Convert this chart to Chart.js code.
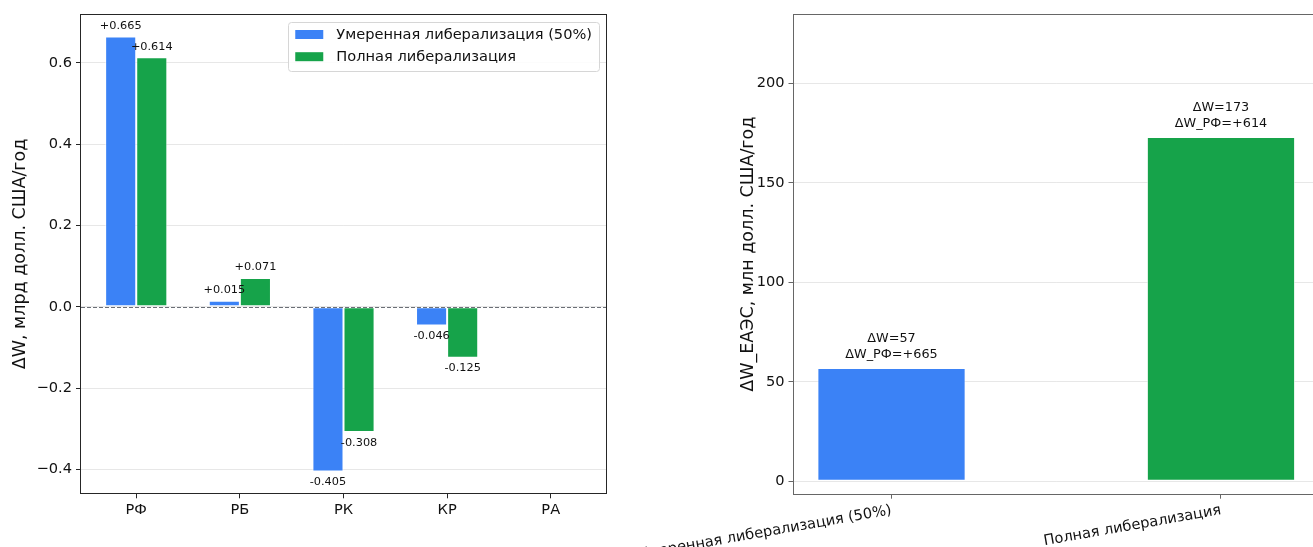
<!DOCTYPE html>
<html><head><meta charset="utf-8">
<script src="https://cdn.jsdelivr.net/npm/chart.js@4.4.1/dist/chart.umd.min.js"></script>
<style>
html,body{margin:0;padding:0;background:#fff;overflow:hidden;width:1313px;height:547px;position:relative;}
#w1{position:absolute;left:0;top:0;width:612px;height:547px;}
#w2{position:absolute;left:600px;top:0;width:725px;height:547px;}
</style></head><body>
<div id="w1"><canvas id="c1"></canvas></div>
<div id="w2"><canvas id="c2"></canvas></div>
<script>
// ---- data ----
const countries = ['РФ', 'РБ', 'РК', 'КР', 'РА'];
const moderate = [0.665, 0.015, -0.405, -0.046, 0];
const fullLib = [0.614, 0.071, -0.308, -0.125, 0];
const seriesNames = ['Умеренная либерализация (50%)', 'Полная либерализация'];
const leftYTicks = [-0.4, -0.2, 0, 0.2, 0.4, 0.6];
const scenarios = ['Умеренная либерализация (50%)', 'Полная либерализация'];
const eaeuTotal = [57, 173];
const rfGain = [665, 614];
const rightYTicks = [0, 50, 100, 150, 200];

const BLUE = '#3b82f6', GREEN = '#16a34a';
const TXT = '#111';
const GRID = 'rgba(176,176,176,0.3)';
const TICK_FS = 14.6, TITLE_FS = 17.5;
Chart.defaults.font.family = "'DejaVu Sans', sans-serif";
Chart.defaults.color = TXT;
Chart.defaults.animation = false;

function fmtTick(v, d) { const s = Math.abs(v).toFixed(d); return (v < -1e-9 ? '\u2212' : '') + s; }
function noPad(s) { s.paddingLeft = 0; s.paddingRight = 0; s.paddingTop = 0; s.paddingBottom = 0; }

const framePlugin = {
  id: 'frame',
  afterDraw(chart, args, opts) {
    const { left, top, right, bottom } = chart.chartArea;
    const ctx = chart.ctx; ctx.save();
    ctx.strokeStyle = opts.color || '#222'; ctx.lineWidth = 1;
    const l = Math.round(left) - 0.5, t = Math.round(top) - 0.5, r = Math.round(right) + 0.5, b = Math.round(bottom) + 0.5;
    ctx.strokeRect(l, t, r - l, b - t);
    ctx.restore();
  }
};

const zeroLinePlugin = {
  id: 'zeroLine',
  afterDatasetsDraw(chart) {
    const ctx = chart.ctx, y = Math.round(chart.scales.y.getPixelForValue(0)) + 0.5;
    const { left, right } = chart.chartArea;
    ctx.save(); ctx.strokeStyle = '#6b6f76'; ctx.lineWidth = 1; ctx.setLineDash([4, 2]);
    ctx.beginPath(); ctx.moveTo(left, y); ctx.lineTo(right, y); ctx.stroke(); ctx.restore();
  }
};

const leftLabelsPlugin = {
  id: 'leftLabels',
  afterDatasetsDraw(chart) {
    const ctx = chart.ctx; ctx.save();
    ctx.font = "11.3px 'DejaVu Sans'"; ctx.fillStyle = TXT; ctx.textAlign = 'center'; ctx.textBaseline = 'alphabetic';
    chart.data.datasets.forEach((ds, i) => {
      const meta = chart.getDatasetMeta(i);
      meta.data.forEach((el, j) => {
        const v = ds.data[j].y; if (!v) return;
        const txt = (v > 0 ? '+' : '') + v.toFixed(3);
        ctx.fillText(txt, el.x, v > 0 ? el.y - 7.5 : el.y + 13.8);
      });
    });
    ctx.restore();
  }
};

const legendPlugin = {
  id: 'boxLegend',
  afterDraw(chart) {
    const ctx = chart.ctx, ca = chart.chartArea; ctx.save();
    ctx.font = TICK_FS + "px 'DejaVu Sans'";
    const dsets = chart.data.datasets;
    const maxW = Math.max(...dsets.map(d => ctx.measureText(d.label).width));
    const w = 7 + 28 + 13 + maxW + 7, h = 48.7;
    const x0 = ca.right - 7 - w, y0 = ca.top + 7.3;
    ctx.fillStyle = 'rgba(255,255,255,0.85)'; ctx.strokeStyle = '#d6d6d6'; ctx.lineWidth = 1;
    ctx.beginPath(); ctx.roundRect(Math.round(x0) + 0.5, Math.round(y0) + 0.5, Math.round(w), Math.round(h), 3); ctx.fill(); ctx.stroke();
    dsets.forEach((d, i) => {
      const cy = y0 + 12.5 + i * 22.2;
      ctx.fillStyle = d.backgroundColor; ctx.fillRect(x0 + 7, cy - 4.5, 28, 9);
      ctx.fillStyle = TXT; ctx.textBaseline = 'middle'; ctx.textAlign = 'left';
      ctx.fillText(d.label, x0 + 7 + 28 + 13, cy + 0.5);
    });
    ctx.restore();
  }
};

const rightLabelsPlugin = {
  id: 'rightLabels',
  afterDatasetsDraw(chart) {
    const ctx = chart.ctx; ctx.save();
    ctx.font = "12.8px 'DejaVu Sans'"; ctx.fillStyle = TXT; ctx.textAlign = 'center'; ctx.textBaseline = 'alphabetic';
    const meta = chart.getDatasetMeta(0);
    meta.data.forEach((el, j) => {
      ctx.fillText('ΔW=' + eaeuTotal[j], el.x, el.y - 25.7);
      ctx.fillText('ΔW_РФ=+' + rfGain[j], el.x, el.y - 10);
    });
    ctx.restore();
  }
};

// ---- left chart ----
new Chart(document.getElementById('c1'), {
  type: 'bar',
  data: {
    datasets: [
      { label: seriesNames[0], data: moderate.map((v, i) => ({ x: i, y: v })), backgroundColor: BLUE,
        borderColor: 'rgba(255,255,255,0.6)', borderWidth: 1, borderSkipped: false, categoryPercentage: 0.6, barPercentage: 1 },
      { label: seriesNames[1], data: fullLib.map((v, i) => ({ x: i, y: v })), backgroundColor: GREEN,
        borderColor: 'rgba(255,255,255,0.6)', borderWidth: 1, borderSkipped: false, categoryPercentage: 0.6, barPercentage: 1 }
    ]
  },
  options: {
    responsive: true, maintainAspectRatio: false,
    layout: { padding: { top: 14.7, right: 6, left: 0, bottom: 0 } },
    plugins: { legend: { display: false }, tooltip: { enabled: false }, frame: { color: '#262626' } },
    scales: {
      x: {
        type: 'linear', min: -0.533, max: 4.533, offset: false,
        afterBuildTicks: s => { s.ticks = countries.map((c, i) => ({ value: i })); },
        afterFit: s => { s.height = 547 - 493.3; noPad(s); },
        ticks: { callback: v => countries[v], autoSkip: false, minRotation: 0, maxRotation: 0, font: { size: TICK_FS }, color: TXT, padding: 3 },
        grid: { offset: false, drawOnChartArea: false, tickColor: '#262626', tickLength: 5, tickWidth: 1 },
        border: { display: false }
      },
      y: {
        min: -0.4585, max: 0.7185, z: 1,
        afterBuildTicks: s => { s.ticks = leftYTicks.map(v => ({ value: v })); },
        afterFit: s => { s.width = 81; noPad(s); },
        ticks: { callback: v => fmtTick(v, 1), font: { size: TICK_FS }, color: TXT, padding: 4 },
        grid: { offset: false, color: GRID, lineWidth: 1, tickColor: '#262626', tickLength: 5, tickWidth: 1 },
        border: { display: false },
        title: { display: true, text: 'ΔW, млрд долл. США/год', font: { size: TITLE_FS }, color: TXT, padding: { top: 9.5, bottom: 0 } }
      }
    }
  },
  plugins: [framePlugin, zeroLinePlugin, leftLabelsPlugin, legendPlugin]
});

// ---- right chart ----
new Chart(document.getElementById('c2'), {
  type: 'bar',
  data: {
    datasets: [
      { label: 'ΔW_ЕАЭС', data: eaeuTotal.map((v, i) => ({ x: i, y: v })), backgroundColor: [BLUE, GREEN],
        borderColor: 'rgba(255,255,255,0.6)', borderWidth: 1, borderSkipped: false, categoryPercentage: 0.45, barPercentage: 1 }
    ]
  },
  options: {
    responsive: true, maintainAspectRatio: false,
    layout: { padding: { top: 14.7, right: 6, left: 0, bottom: 0 } },
    plugins: { legend: { display: false }, tooltip: { enabled: false }, frame: { color: '#666' } },
    scales: {
      x: {
        type: 'linear', min: -0.2975, max: 1.2975, offset: false,
        afterBuildTicks: s => { s.ticks = scenarios.map((c, i) => ({ value: i })); },
        afterFit: s => { s.height = 547 - 493.7; noPad(s); },
        ticks: { callback: v => scenarios[v], autoSkip: false, minRotation: 10, maxRotation: 10, font: { size: TICK_FS }, color: TXT, padding: 3 },
        grid: { offset: false, drawOnChartArea: false, tickColor: '#666', tickLength: 5, tickWidth: 1 },
        border: { display: false }
      },
      y: {
        min: -6.2, max: 234.5, z: 1,
        afterBuildTicks: s => { s.ticks = rightYTicks.map(v => ({ value: v })); },
        afterFit: s => { s.width = 193.5; noPad(s); },
        ticks: { callback: v => String(v), font: { size: TICK_FS }, color: TXT, padding: 4 },
        grid: { offset: false, color: GRID, lineWidth: 1, tickColor: '#666', tickLength: 5, tickWidth: 1 },
        border: { display: false },
        title: { display: true, text: 'ΔW_ЕАЭС, млн долл. США/год', font: { size: TITLE_FS }, color: TXT, padding: { top: 137.5, bottom: 0 } }
      }
    }
  },
  plugins: [framePlugin, rightLabelsPlugin]
});
</script>
</body></html>
